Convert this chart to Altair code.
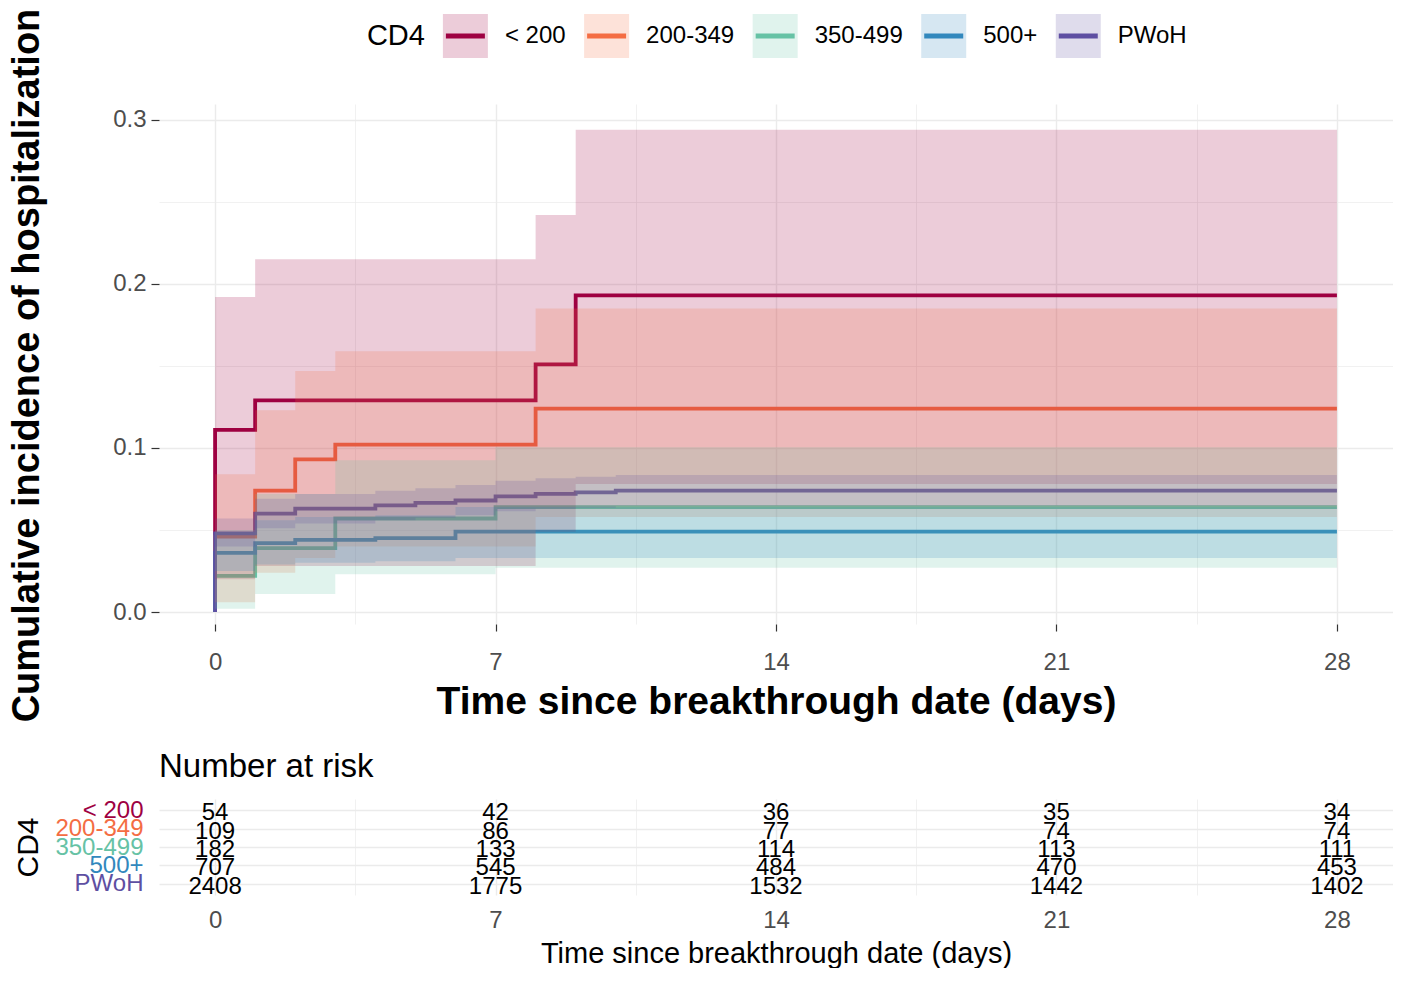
import altair as alt
import pandas as pd

# ---------------- data ----------------
groups = ["< 200", "200-349", "350-499", "500+", "PWoH"]
colors = ["#9E0142", "#F46D43", "#66C2A5", "#3288BD", "#5E4FA2"]

t_lt200 = [0, 1, 8, 9]
est_lt200 = [0.111, 0.129, 0.151, 0.193]
lo_lt200 = [0.020, 0.028, 0.049, 0.078]
hi_lt200 = [0.192, 0.215, 0.242, 0.294]

t_200 = [0, 1, 2, 3, 8]
est_200 = [0.046, 0.074, 0.093, 0.102, 0.124]
lo_200 = [0.006, 0.024, 0.033, 0.040, 0.058]
hi_200 = [0.084, 0.123, 0.147, 0.159, 0.185]

t_350 = [0, 1, 3, 7]
est_350 = [0.022, 0.039, 0.057, 0.064]
lo_350 = [0.002, 0.011, 0.023, 0.027]
hi_350 = [0.050, 0.072, 0.0925, 0.1005]

t_500 = [0, 1, 2, 4, 6]
est_500 = [0.036, 0.042, 0.044, 0.045, 0.049]
lo_500 = [0.025, 0.029, 0.030, 0.031, 0.033]
hi_500 = [0.049, 0.056, 0.058, 0.059, 0.064]

t_pwoh = [0, 1, 2, 4, 5, 6, 7, 8, 9, 10]
est_pwoh = [0.048, 0.060, 0.063, 0.065, 0.0665, 0.068, 0.0705, 0.072, 0.073, 0.074]
lo_pwoh = [0.040, 0.051, 0.054, 0.056, 0.0575, 0.059, 0.0615, 0.063, 0.0635, 0.0645]
hi_pwoh = [0.057, 0.069, 0.072, 0.074, 0.0755, 0.0775, 0.080, 0.0815, 0.0825, 0.0835]

t_end = 28

risk_times = [0, 7, 14, 21, 28]
risk_lt200 = [54, 42, 36, 35, 34]
risk_200 = [109, 86, 77, 74, 74]
risk_350 = [182, 133, 114, 113, 111]
risk_500 = [707, 545, 484, 470, 453]
risk_pwoh = [2408, 1775, 1532, 1442, 1402]

x_grid_vals = [0, 3.5, 7, 10.5, 14, 17.5, 21, 24.5, 28]
y_grid_vals = [0, 0.05, 0.1, 0.15, 0.2, 0.25, 0.3]

# ---------------- tables ----------------
series = [
    (t_lt200, est_lt200, lo_lt200, hi_lt200),
    (t_200, est_200, lo_200, hi_200),
    (t_350, est_350, lo_350, hi_350),
    (t_500, est_500, lo_500, hi_500),
    (t_pwoh, est_pwoh, lo_pwoh, hi_pwoh),
]
risk_counts = [risk_lt200, risk_200, risk_350, risk_500, risk_pwoh]

line_rows, band_rows = [], []
seq = 0
for gi, (g, (ts, es, los, his)) in enumerate(zip(groups, series)):
    line_rows.append({"group": g, "gi": gi, "t": 0, "v": 0.0, "seq": seq}); seq += 1
    for t, e in zip(ts, es):
        line_rows.append({"group": g, "gi": gi, "t": t, "v": e, "seq": seq}); seq += 1
    line_rows.append({"group": g, "gi": gi, "t": t_end, "v": es[-1], "seq": seq}); seq += 1
    for t, lo, hi in zip(ts, los, his):
        band_rows.append({"group": g, "gi": gi, "t": t, "lo": lo, "hi": hi})
    band_rows.append({"group": g, "gi": gi, "t": t_end, "lo": los[-1], "hi": his[-1]})
line_df = pd.DataFrame(line_rows)
band_df = pd.DataFrame(band_rows)

risk_rows = []
for g, counts in zip(groups, risk_counts):
    for t, n in zip(risk_times, counts):
        risk_rows.append({"group": g, "t": t, "n": n})
risk_df = pd.DataFrame(risk_rows)

# ---------------- styling ----------------
FONT = "Liberation Sans"
PLOT_W = 1234
MAIN_H = 520
RISK_H = 96
GRID = "#EBEBEB"

cscale = alt.Scale(domain=groups, range=colors)
xscale = alt.Scale(domain=[-1.4, 29.4], nice=False, zero=False)
yscale = alt.Scale(domain=[-0.0073, 0.3097], nice=False, zero=False)

x_major = "datum.value % 7 == 0"
y_major = "abs(datum.value * 10 - round(datum.value * 10)) < 0.000001"


def x_axis(title, title_size, title_weight, tick_size, label_pad, title_pad, ticks_on):
    return alt.Axis(
        values=x_grid_vals,
        format="d",
        labelExpr=f"{x_major} ? datum.label : ''",
        grid=True,
        gridColor=GRID,
        gridWidth={"condition": {"test": x_major, "value": 1.4}, "value": 0.7},
        domain=False,
        ticks=ticks_on,
        tickSize=tick_size,
        tickColor="#333333",
        tickWidth=1.2,
        tickOpacity={"condition": {"test": x_major, "value": 1}, "value": 0},
        labelFontSize=24,
        labelColor="#4D4D4D",
        labelPadding=label_pad,
        labelFont=FONT,
        title=title,
        titleFontSize=title_size,
        titleFontWeight=title_weight,
        titleColor="black",
        titleFont=FONT,
        titlePadding=title_pad,
    )


yaxis_main = alt.Axis(
    values=y_grid_vals,
    format=".1f",
    labelExpr=f"{y_major} ? datum.label : ''",
    grid=True,
    gridColor=GRID,
    gridWidth={"condition": {"test": y_major, "value": 1.4}, "value": 0.7},
    domain=False,
    tickSize=8,
    tickColor="#333333",
    tickWidth=1.2,
    tickOpacity={"condition": {"test": y_major, "value": 1}, "value": 0},
    labelFontSize=24,
    labelColor="#4D4D4D",
    labelPadding=5,
    labelFont=FONT,
    title="Cumulative incidence of hospitalization",
    titleFontSize=38,
    titleFontWeight="bold",
    titleColor="black",
    titleFont=FONT,
    titlePadding=66,
    titleY=261,
)

# ---------------- main plot ----------------
lines = alt.Chart(line_df).mark_line(interpolate="step-after", strokeWidth=3.8).encode(
    x=alt.X("t:Q", scale=xscale,
            axis=x_axis("Time since breakthrough date (days)", 39, "bold", 7, 19, 8, True)),
    y=alt.Y("v:Q", scale=yscale, axis=yaxis_main),
    color=alt.Color("group:N", scale=cscale, legend=None),
    detail="gi:N",
    order=alt.Order("seq:Q"),
)
bands = alt.Chart(band_df).mark_area(interpolate="step-after", fillOpacity=0.2).encode(
    x=alt.X("t:Q", scale=xscale),
    y=alt.Y("lo:Q", scale=yscale),
    y2="hi:Q",
    color=alt.Color("group:N", scale=cscale, legend=None),
    detail="gi:N",
)
curves = alt.layer(lines, bands)

# ---------------- legend (drawn above the plot area) ----------------
CW = {" ": 278, "<": 584, "-": 333, "+": 584, "P": 667, "W": 944, "o": 556,
      "H": 722, "C": 722, "D": 722}


def tw(s, size):
    return sum(CW.get(c, 556) for c in s) * size / 1000.0


LEG_H = 50
BOX = 45
leg_title = "CD4"
total = tw(leg_title, 29) + 18 + sum(BOX + 17 + tw(g, 24) for g in groups) + 18.5 * (len(groups) - 1)
xpos = PLOT_W / 2 + 1 - total / 2
title_df = pd.DataFrame([{"x": xpos, "y": 24, "txt": leg_title}])
xpos += tw(leg_title, 29) + 18
leg_rows = []
for g in groups:
    leg_rows.append({"group": g, "bx0": xpos, "bx1": xpos + BOX, "lx0": xpos + 3, "lx1": xpos + BOX - 3,
                     "tx": xpos + BOX + 17, "y0": 2, "y1": 46, "ym": 24})
    xpos += BOX + 17 + tw(g, 24) + 18.5
leg_df = pd.DataFrame(leg_rows)

lx = alt.Scale(domain=[0, PLOT_W], range=[0, PLOT_W], nice=False, zero=False)
ly = alt.Scale(domain=[0, LEG_H], range=[-44, -94], nice=False, zero=False)
leg_boxes = alt.Chart(leg_df).mark_rect(opacity=0.2).encode(
    x=alt.X("bx0:Q", scale=lx, axis=None), x2="bx1:Q",
    y=alt.Y("y0:Q", scale=ly, axis=None), y2="y1:Q",
    color=alt.Color("group:N", scale=cscale, legend=None),
)
leg_lines = alt.Chart(leg_df).mark_rule(strokeWidth=5).encode(
    x=alt.X("lx0:Q", scale=lx, axis=None), x2="lx1:Q",
    y=alt.Y("ym:Q", scale=ly, axis=None),
    color=alt.Color("group:N", scale=cscale, legend=None),
)
leg_text = alt.Chart(leg_df).mark_text(align="left", baseline="middle", fontSize=24, font=FONT,
                                       color="black").encode(
    x=alt.X("tx:Q", scale=lx, axis=None),
    y=alt.Y("ym:Q", scale=ly, axis=None),
    text="group:N",
)
leg_title_mark = alt.Chart(title_df).mark_text(align="left", baseline="middle", fontSize=29, font=FONT,
                                               color="black").encode(
    x=alt.X("x:Q", scale=lx, axis=None),
    y=alt.Y("y:Q", scale=ly, axis=None),
    text="txt:N",
)
legend = alt.layer(leg_boxes, leg_lines, leg_text, leg_title_mark)

main = alt.layer(curves, legend).resolve_scale(x="independent", y="independent").properties(
    width=PLOT_W, height=MAIN_H)

# ---------------- risk table ----------------
color_expr = " : ".join(f"datum.value === '{g}' ? '{c}'" for g, c in zip(groups, colors)) + " : 'black'"
yaxis_risk = alt.Axis(
    grid=True, gridColor=GRID, gridWidth=1.4, domain=False, ticks=False,
    labelFontSize=24, labelFont=FONT, labelPadding=16,
    labelColor={"expr": color_expr},
    title="CD4", titleFontSize=30, titleFontWeight="normal", titleColor="black", titleFont=FONT,
    titlePadding=11,
)
risk = alt.Chart(risk_df).mark_text(fontSize=24, baseline="middle", font=FONT, color="black", dy=3).encode(
    x=alt.X("t:Q", scale=xscale,
            axis=x_axis("Time since breakthrough date (days)", 29, "normal", 0, 13, 7, False)),
    y=alt.Y("group:N", scale=alt.Scale(type="point", domain=groups, padding=0.6), axis=yaxis_risk),
    text="n:Q",
).properties(
    width=PLOT_W, height=RISK_H,
    title=alt.TitleParams("Number at risk", anchor="start", frame="group", fontSize=33,
                          fontWeight="normal", color="black", font=FONT, offset=14),
)

chart = alt.vconcat(main, risk, spacing=29).properties(padding=0).configure(
    font=FONT).configure_view(strokeWidth=0)

chart.save("out.html", embed_options={"renderer": "svg", "actions": False})
